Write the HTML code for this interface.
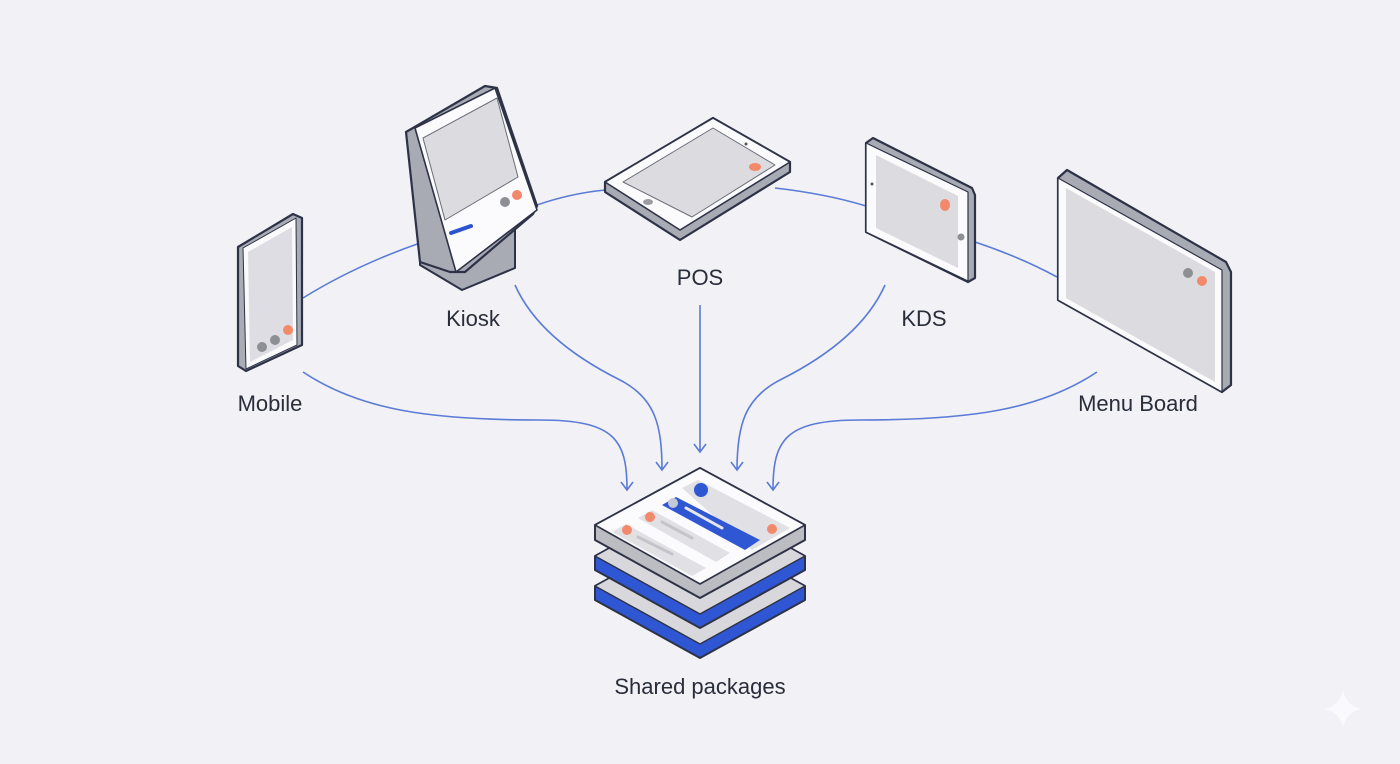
<!DOCTYPE html>
<html><head><meta charset="utf-8"><style>
html,body{margin:0;padding:0;background:#f1f1f5;}
svg{display:block}
text{font-family:"Liberation Sans",sans-serif;font-size:22px;fill:#2a2d3a}
</style></head><body>
<svg width="1400" height="764" viewBox="0 0 1400 764" xmlns="http://www.w3.org/2000/svg">
<rect width="1400" height="764" fill="#f1f1f6"/>
<defs>
<marker id="ar" markerWidth="16" markerHeight="16" refX="12" refY="7" orient="auto" markerUnits="userSpaceOnUse">
<path d="M4,1 L12,7 L4,13" fill="none" stroke="#5a7bd6" stroke-width="1.6"/>
</marker>
</defs>
<g fill="none" stroke="#5a7bd6" stroke-width="1.6">
<path d="M303,298 C340,275 380,257 420,243"/>
<path d="M537,205 C560,197 585,192 605,190"/>
<path d="M775,188 C810,192 840,198 866,206"/>
<path d="M975,242 C1005,252 1033,264 1057,277"/>
<path d="M303,372 C360,410 430,420 540,420 C615,420 627,440 627,490" marker-end="url(#ar)"/>
<path d="M515,285 C535,330 580,360 620,380 C655,398 662,425 662,470" marker-end="url(#ar)"/>
<path d="M700,305 L700,452" marker-end="url(#ar)"/>
<path d="M885,285 C865,330 820,360 780,380 C745,398 737,425 737,470" marker-end="url(#ar)"/>
<path d="M1097,372 C1040,410 970,420 860,420 C785,420 773,440 773,490" marker-end="url(#ar)"/>
</g>
<g stroke-linejoin="round" stroke-linecap="round">
<path d="M238,247 L293,214 L302,218 L302,345 L246,371 L238,366 Z" fill="#a9abb5" stroke="#2e3246" stroke-width="2.2"/>
<path d="M243,248 L296,218 L297,345 L246,369 Z" fill="#fafafc" stroke="#2e3246" stroke-width="1"/>
<path d="M248,252 L292,227 L293,340 L250,362 Z" fill="#dedde3"/>
<circle cx="262" cy="347" r="5" fill="#8e8e95"/><circle cx="275" cy="340" r="5" fill="#8e8e95"/><circle cx="288" cy="330" r="5" fill="#f2896b"/>
<!-- Kiosk -->
<path d="M420,235 L420,265 L462,290 L515,268 L515,225 Z" fill="#a8aab4" stroke="#2e3246" stroke-width="2"/>
<path d="M406,132 L485,86 L497,88 L537,206 L533,214 L465,272 L450,272 L420,262 Z" fill="#a8aab4" stroke="#2e3246" stroke-width="2.2"/>
<path d="M415,128 L495,88 L537,210 L456,272 Z" fill="#fbfbfd" stroke="#2e3246" stroke-width="1.6"/>
<path d="M423,138 L497,98 L518,177 L445,220 Z" fill="#dcdce0" stroke="#6a6d79" stroke-width="1"/>
<circle cx="505" cy="202" r="5" fill="#8e8e95"/><circle cx="517" cy="195" r="5" fill="#f2896b"/>
<path d="M451,233 L471,226" stroke="#2d54d0" stroke-width="4"/>
<!-- POS -->
<path d="M605,182 L605,192 L680,240 L790,172 L790,162 L713,118 Z" fill="#a8aab4" stroke="#2e3246" stroke-width="2.2"/>
<path d="M605,182 L713,118 L790,162 L680,230 Z" fill="#fbfbfd" stroke="#2e3246" stroke-width="1.6"/>
<path d="M623,182 L713,128 L775,165 L692,217 Z" fill="#dcdce0" stroke="#6a6d79" stroke-width="1"/>
<ellipse cx="755" cy="167" rx="6" ry="4" fill="#f2896b"/><ellipse cx="648" cy="202" rx="5" ry="3" fill="#9c9ca2"/><circle cx="746" cy="144" r="1.5" fill="#555"/>
<!-- KDS -->
<path d="M866,143 L873,138 L972,188 L975,195 L975,278 L968,282 L866,232 Z" fill="#a8aab4" stroke="#2e3246" stroke-width="2.2"/>
<path d="M866,143 L968,192 L968,281 L866,232 Z" fill="#fbfbfd" stroke="#2e3246" stroke-width="1.2"/>
<path d="M876,155 L958,196 L958,268 L876,228 Z" fill="#dcdce0"/>
<ellipse cx="945" cy="205" rx="5" ry="6" fill="#f2896b"/><circle cx="961" cy="237" r="3.5" fill="#8e8e95"/><circle cx="872" cy="184" r="1.5" fill="#555"/>
<!-- Menu Board -->
<path d="M1058,178 L1067,170 L1226,262 L1231,272 L1231,385 L1222,392 L1058,300 Z" fill="#a8aab4" stroke="#2e3246" stroke-width="2.2"/>
<path d="M1058,178 L1222,270 L1222,392 L1058,300 Z" fill="#fbfbfd" stroke="#2e3246" stroke-width="1.2"/>
<path d="M1066,188 L1215,272 L1215,382 L1066,298 Z" fill="#dcdce0"/>
<circle cx="1188" cy="273" r="5" fill="#8e8e95"/><circle cx="1202" cy="281" r="5" fill="#f2896b"/>
<!-- Stack -->
<path d="M595,586 L700,528 L805,586 L805,600 L700,658 L595,600 Z" fill="#2f57d4" stroke="#2e3246" stroke-width="2"/>
<path d="M595,586 L700,528 L805,586 L700,644 Z" fill="#d7d7dc" stroke="#2e3246" stroke-width="1.4"/>
<path d="M595,556 L700,498 L805,556 L805,570 L700,628 L595,570 Z" fill="#2f57d4" stroke="#2e3246" stroke-width="2"/>
<path d="M595,556 L700,498 L805,556 L700,614 Z" fill="#d7d7dc" stroke="#2e3246" stroke-width="1.4"/>
<path d="M595,525 L700,468 L805,525 L805,540 L700,598 L595,540 Z" fill="#bcbcc3" stroke="#2e3246" stroke-width="2"/>
<path d="M595,525 L700,468 L805,525 L700,584 Z" fill="#fbfbfd" stroke="#2e3246" stroke-width="1.6"/>
<path d="M682,488 L698,480 L790,528 L752,550 Z" fill="#e1e1e5"/>
<path d="M662,505 L676,497 L760,540 L745,550 Z" fill="#2f57d4"/>
<circle cx="701" cy="490" r="7" fill="#2f57d4"/><circle cx="673" cy="503" r="5" fill="#c5c9d6"/>
<path d="M686,508 L722,528" stroke="#e6e7ee" stroke-width="3"/>
<path d="M638,518 L652,510 L730,553 L716,562 Z" fill="#e1e1e5"/>
<path d="M612,532 L626,524 L706,568 L692,576 Z" fill="#e1e1e5"/>
<circle cx="650" cy="517" r="5" fill="#f2896b"/><circle cx="627" cy="530" r="5" fill="#f2896b"/><circle cx="772" cy="529" r="5" fill="#f2896b"/>
<path d="M662,522 L692,538" stroke="#c4c4ca" stroke-width="3"/>
<path d="M638,537 L672,554" stroke="#c4c4ca" stroke-width="3"/>
</g>
<path d="M1343,690 Q1346,706 1362,709 Q1346,712 1343,728 Q1340,712 1324,709 Q1340,706 1343,690 Z" fill="#fafafd"/>
<text x="270" y="411" text-anchor="middle">Mobile</text>
<text x="473" y="326" text-anchor="middle">Kiosk</text>
<text x="700" y="285" text-anchor="middle">POS</text>
<text x="924" y="326" text-anchor="middle">KDS</text>
<text x="1138" y="411" text-anchor="middle">Menu Board</text>
<text x="700" y="694" text-anchor="middle">Shared packages</text>
</svg>
</body></html>
